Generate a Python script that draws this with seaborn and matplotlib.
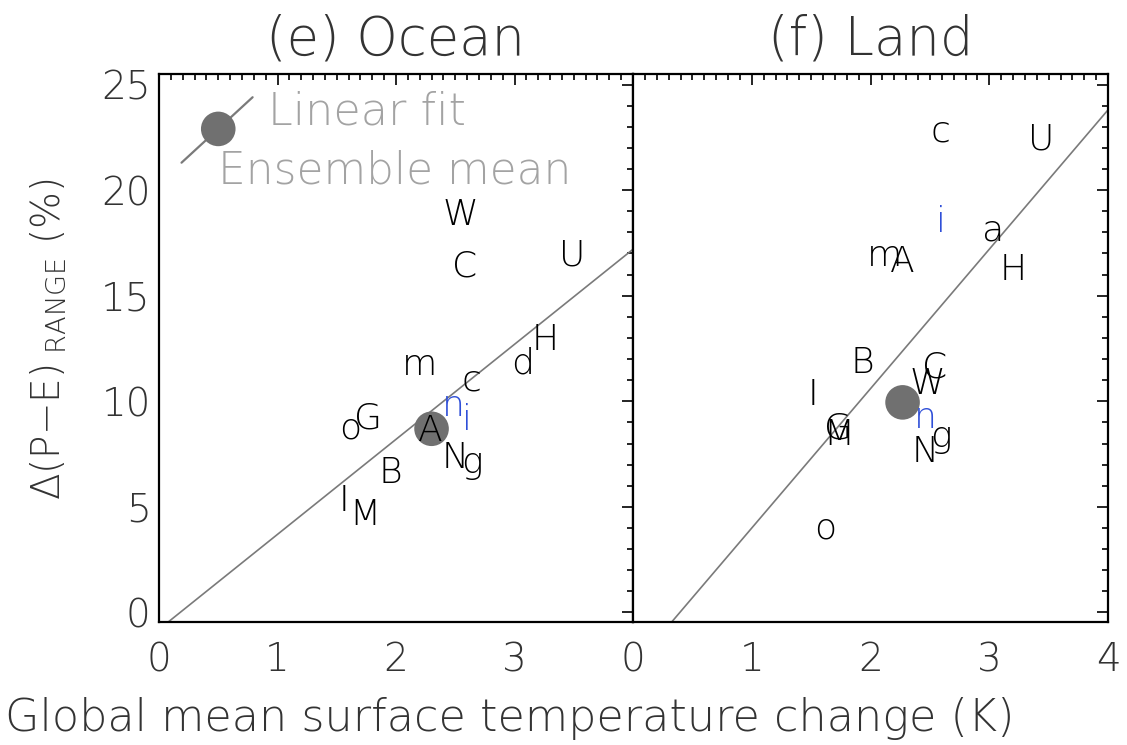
import numpy as np
import pandas as pd
import matplotlib
matplotlib.use('Agg')
import matplotlib.pyplot as plt
import seaborn as sns
from matplotlib.ticker import MultipleLocator

# (e) Ocean: model letters
ocean_labels = ['W', 'C', 'U', 'H', 'd', 'm', 'c', 'n', 'i', 'G', 'o', 'A', 'N', 'g', 'B', 'I', 'M']
ocean_x = [2.54, 2.58, 3.49, 3.26, 3.07, 2.20, 2.64, 2.48, 2.60, 1.76, 1.61, 2.29, 2.50, 2.64, 1.95, 1.56, 1.74]
ocean_y = [18.8, 16.4, 16.9, 12.9, 11.8, 11.7, 11.0, 9.8, 9.1, 9.2, 8.7, 8.6, 7.3, 7.1, 6.6, 5.3, 4.6]
ocean_mean = [2.30, 8.7]
ocean_fit = [4.5, -0.8]   # slope, intercept

# (f) Land
land_labels = ['c', 'U', 'i', 'a', 'm', 'A', 'H', 'B', 'C', 'I', 'W', 'n', 'G', 'M', 'g', 'N', 'o']
land_x = [2.59, 3.44, 2.59, 3.03, 2.12, 2.27, 3.20, 1.93, 2.54, 1.52, 2.48, 2.46, 1.73, 1.73, 2.59, 2.46, 1.62]
land_y = [22.8, 22.4, 18.5, 18.1, 16.9, 16.6, 16.2, 11.8, 11.6, 10.3, 10.8, 9.2, 8.7, 8.4, 8.3, 7.6, 4.0]
land_mean = [2.27, 9.95]
land_fit = [6.6, -2.6]

blue_models = ['n', 'i']
x_ticks = [0, 1, 2, 3, 4]
y_ticks = [0, 5, 10, 15, 20, 25]

sns.set_style('white')
plt.rcParams['font.family'] = ['DejaVu Sans']
plt.rcParams['font.weight'] = 'light'
plt.rcParams['axes.titleweight'] = 'light'
plt.rcParams['mathtext.fontset'] = 'dejavusans'

TXT = '#333333'
GRAY = '#7a7a7a'
BLUE = '#2f4fd8'

fig = plt.figure(figsize=(11.27, 7.45), dpi=100)
ax1 = fig.add_axes([159 / 1127, 123 / 745, 474 / 1127, 548 / 745])
ax2 = fig.add_axes([633 / 1127, 123 / 745, 475 / 1127, 548 / 745])


def panel(ax, labels, xs, ys, mean, fit, title):
    df = pd.DataFrame({'model': labels, 'dT': xs, 'dPE': ys})
    xl = np.array([0.0, 4.0])
    sns.lineplot(x=xl, y=fit[0] * xl + fit[1], color=GRAY, lw=1.2, ax=ax, zorder=1)
    sns.scatterplot(x=[mean[0]], y=[mean[1]], s=620, color='#707070',
                    edgecolor='none', ax=ax, zorder=2)
    for _, r in df.iterrows():
        c = BLUE if r.model in blue_models else 'black'
        ax.text(r.dT, r.dPE, r.model, ha='center', va='center', fontsize=26,
                color=c, zorder=3)
    ax.set_xlim(0, 4)
    ax.set_ylim(-0.45, 25.5)
    ax.set_xticks(x_ticks)
    ax.set_yticks(y_ticks)
    ax.xaxis.set_minor_locator(MultipleLocator(0.1))
    ax.yaxis.set_minor_locator(MultipleLocator(1))
    ax.tick_params(which='both', direction='in', top=True, right=True,
                   labelsize=28, labelcolor=TXT, color='black', width=1.2)
    ax.tick_params(axis='x', which='major', length=8, pad=14)
    ax.tick_params(axis='y', which='major', length=8, pad=6)
    ax.tick_params(which='minor', length=4)
    for s in ax.spines.values():
        s.set_linewidth(1.6)
        s.set_color('black')
    ax.set_xlabel('')
    ax.set_ylabel('')
    ax.set_title(title, fontsize=38, color=TXT, pad=14, fontweight='light')


panel(ax1, ocean_labels, ocean_x, ocean_y, ocean_mean, ocean_fit, '(e) Ocean')
panel(ax2, land_labels, land_x, land_y, land_mean, land_fit, '(f) Land')
ax1.set_xticklabels(['0', '1', '2', '3', ''])
ax2.set_yticklabels([])

# legend drawn inside the ocean panel
sns.lineplot(x=[0.19, 0.79], y=[21.3, 24.4], color=GRAY, lw=1.6, ax=ax1, zorder=4)
sns.scatterplot(x=[0.50], y=[22.9], s=620, color='#707070', edgecolor='none',
                ax=ax1, zorder=5)
ax1.text(0.92, 23.7, 'Linear fit', fontsize=32, color='#a3a3a3', va='center')
ax1.text(0.50, 20.9, 'Ensemble mean', fontsize=31.5, color='#a3a3a3', va='center')

fig.text(510 / 1127, 1 - 718 / 745, 'Global mean surface temperature change (K)',
         ha='center', va='center', fontsize=32, color=TXT)
fig.text(48 / 1127, 0.545, r'$\Delta$(P$-$E)$_{\mathregular{\ RANGE}}$ (%)',
         rotation=90, ha='center', va='center', fontsize=28, color=TXT)

fig.savefig('out.png', dpi=100)
